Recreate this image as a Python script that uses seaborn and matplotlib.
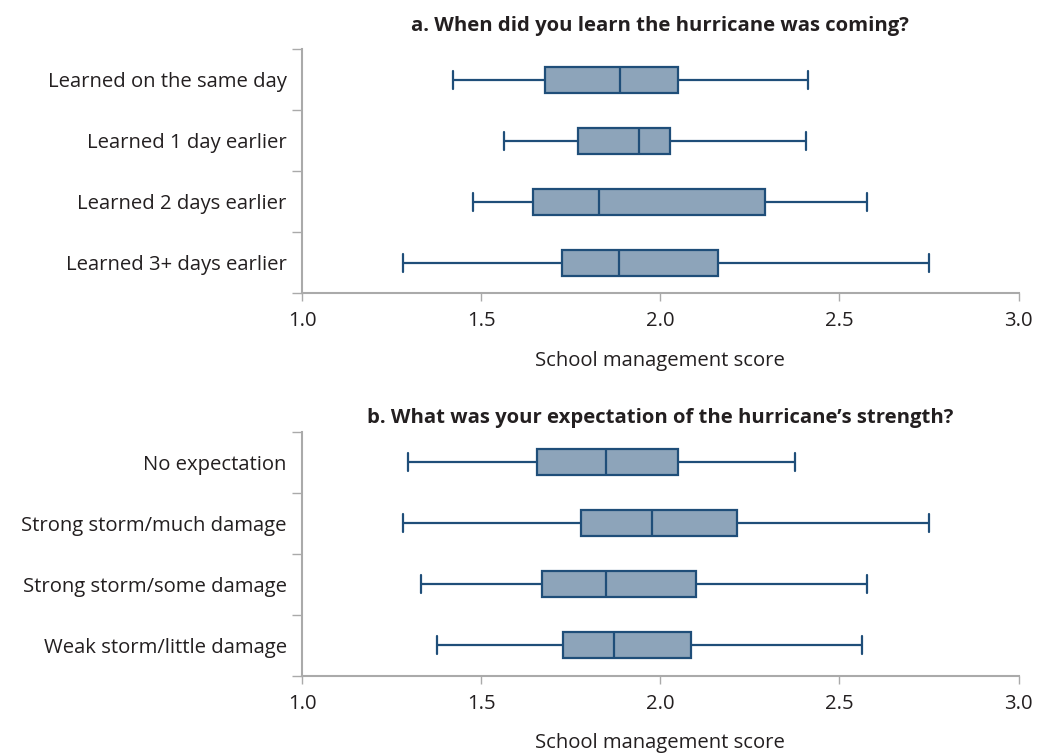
import pandas as pd
import matplotlib
matplotlib.use("Agg")
import matplotlib.pyplot as plt
import seaborn as sns

# Resumen de cinco números: [mín, Q1, mediana, Q3, máx]
cats_a = ["Learned on the same day", "Learned 1 day earlier",
          "Learned 2 days earlier", "Learned 3+ days earlier"]
same_day = [1.42, 1.677, 1.887, 2.050, 2.413]
one_day = [1.564, 1.769, 1.941, 2.027, 2.406]
two_days = [1.477, 1.644, 1.828, 2.292, 2.578]
three_days = [1.282, 1.726, 1.884, 2.162, 2.751]

cats_b = ["No expectation", "Strong storm/much damage",
          "Strong storm/some damage", "Weak storm/little damage"]
no_exp = [1.296, 1.655, 1.848, 2.048, 2.376]
much_dmg = [1.282, 1.779, 1.977, 2.214, 2.751]
some_dmg = [1.332, 1.670, 1.848, 2.099, 2.577]
little_dmg = [1.376, 1.727, 1.871, 2.087, 2.563]

title_a = "a. When did you learn the hurricane was coming?"
title_b = "b. What was your expectation of the hurricane\u2019s strength?"
xlab = "School management score"
xticks = [1.0, 1.5, 2.0, 2.5, 3.0]


def long_df(cats, series):
    rows = []
    for c, vals in zip(cats, series):
        for v in vals:
            rows.append({"group": c, "score": v})
    return pd.DataFrame(rows)


df_a = long_df(cats_a, [same_day, one_day, two_days, three_days])
df_b = long_df(cats_b, [no_exp, much_dmg, some_dmg, little_dmg])

sns.set_theme(style="white")
plt.rcParams["font.family"] = ["Open Sans", "DejaVu Sans"]

fill = "#8da4ba"
edge = "#1f4e79"
grey = "#aaaaaa"
text = "#231f20"
fs = 14.6

fig = plt.figure(figsize=(10.43, 7.54), dpi=100)
ax_a = fig.add_axes([0.2896, 0.611, 0.687, 0.3236])
ax_b = fig.add_axes([0.2896, 0.1038, 0.687, 0.3237])

for ax, df, cats, title, tpad in [(ax_a, df_a, cats_a, title_a, 13.5),
                                  (ax_b, df_b, cats_b, title_b, 6)]:
    sns.boxplot(data=df, x="score", y="group", order=cats, ax=ax,
                whis=(0, 100), width=0.43, color=fill, linecolor=edge,
                linewidth=1.6, saturation=1, showfliers=False)
    # acortar un poco los topes de los bigotes
    for ln in ax.lines:
        yd = ln.get_ydata()
        xd = ln.get_xdata()
        if len(yd) == 2 and xd[0] == xd[1] and abs(yd[1] - yd[0]) < 0.3:
            mid = (yd[0] + yd[1]) / 2
            ln.set_ydata([mid - 0.145, mid + 0.145])
    ax.set_xlim(1.0, 3.0)
    ax.set_ylim(3.5, -0.5)
    ax.set_xticks(xticks)
    ax.set_xticklabels([f"{t:.1f}" for t in xticks])
    ax.set_yticks([-0.5, 0.5, 1.5, 2.5, 3.5])
    ax.set_yticklabels([])
    ax.set_yticks(range(len(cats)), minor=True)
    ax.set_yticklabels(cats, minor=True)
    ax.tick_params(axis="y", which="major", length=7, width=1, color=grey, left=True)
    ax.tick_params(axis="y", which="minor", length=0, pad=11, labelsize=fs, labelcolor=text)
    ax.tick_params(axis="x", length=6, width=1, color=grey, bottom=True,
                   pad=7, labelsize=fs, labelcolor=text)
    ax.set_ylabel("")
    ax.set_xlabel(xlab, fontsize=fs, color=text, labelpad=14)
    ax.set_title(title, fontsize=fs, fontweight="bold", color=text, pad=tpad)
    for s in ["top", "right"]:
        ax.spines[s].set_visible(False)
    for s in ["left", "bottom"]:
        ax.spines[s].set_color(grey)
        ax.spines[s].set_linewidth(1.5)

fig.savefig("out.png", dpi=100)
